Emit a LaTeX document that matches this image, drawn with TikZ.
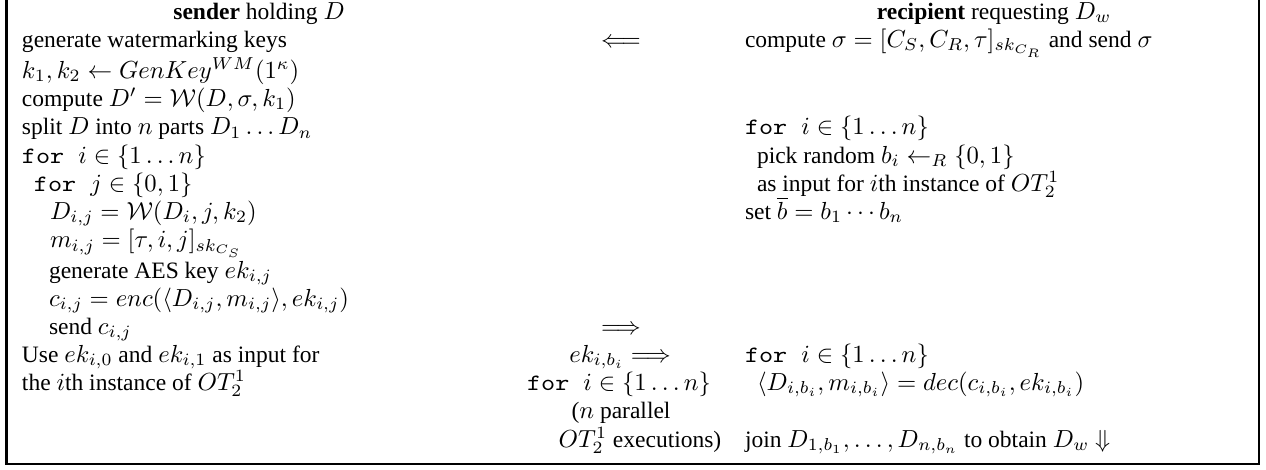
\RequirePackage{fix-cm}
\documentclass[tikz,border=0pt]{standalone}
\usepackage[no-math]{fontspec}
\setmainfont{Liberation Serif}
\setmonofont{lmmono10-regular.otf}[FakeStretch=1.143]
\DeclareMathSizes{10}{10.5}{7.35}{5.25}
\newcommand{\tfor}{\texttt{for\ }}
\begin{document}
\begin{tikzpicture}[x=0.4255pt,y=-0.4255pt,
  lt/.style={anchor=base west,inner sep=0pt,outer sep=0pt,font=\fontsize{10pt}{12pt}\selectfont},
  ct/.style={anchor=base,inner sep=0pt,outer sep=0pt,font=\fontsize{10pt}{12pt}\selectfont},
  frame/.style={draw=black,line width=0.9pt}]
\useasboundingbox (0,0) rectangle (1266,469);
% rows (baselines)
\def\ra{19}\def\rb{47}\def\rc{78}\def\rd{106}\def\re{134.5}\def\rf{163}
\def\rg{191}\def\rh{219}\def\ri{247.5}\def\rj{278}\def\rk{306}\def\rl{334}
\def\rm{362}\def\rn{390}\def\ro{418.5}\def\rp{447}
% left column
\node[ct] (sh) at (259,\ra) {\textbf{sender} holding $D$};
\node[lt] (l2) at (22,\rb) {generate watermarking keys};
\node[lt] (l3) at (22,\rc) {$k_1,k_2\leftarrow GenKey^{WM}(1^\kappa)$};
\node[lt] (l4) at (22,\rd) {compute $D'=\mathcal{W}(D,\sigma,k_1)$};
\node[lt] (l5) at (22,\re) {split $D$ into $n$ parts $D_1\ldots D_n$};
\node[lt] (l6) at (22,\rf) {\tfor$i\in\{1\ldots n\}$};
\node[lt] (l7) at (34,\rg) {\tfor$j\in\{0,1\}$};
\node[lt] (l8) at (50,\rh) {$D_{i,j}=\mathcal{W}(D_i,j,k_2)$};
\node[lt] (l9) at (50,\ri) {$m_{i,j}=[\tau,i,j]_{sk_{C_S}}$};
\node[lt] (l10) at (49,\rj) {generate AES key $ek_{i,j}$};
\node[lt] (l11) at (49,\rk) {$c_{i,j}=enc(\langle D_{i,j},m_{i,j}\rangle,ek_{i,j})$};
\node[lt] (l12) at (49,\rl) {send $c_{i,j}$};
\node[lt] (l13) at (22,\rm) {Use $ek_{i,0}$ and $ek_{i,1}$ as input for};
\node[lt] (l14) at (22,\rn) {the $i$th instance of $OT_2^1$};
% middle column
\node[ct] (m2) at (621,\rb) {$\Longleftarrow$};
\node[ct] (m12) at (621,\rl) {$\Longrightarrow$};
\node[ct] (m13) at (620,\rm) {$ek_{i,b_i}\Longrightarrow$};
\node[ct] (m14) at (619,\rn) {\tfor$i\in\{1\ldots n\}$};
\node[ct] (m15) at (621,\ro) {($n$ parallel};
\node[ct] (m16) at (640,\rp) {$OT_2^1$ executions)};
% right column
\node[ct] (rh) at (994,\ra) {\textbf{recipient} requesting $D_w$};
\node[lt] (r2) at (745,\rb) {compute $\sigma=[C_S,C_R,\tau]_{sk_{C_R}}$ and send $\sigma$};
\node[lt] (r5) at (745,\re) {\tfor$i\in\{1\ldots n\}$};
\node[lt] (r6) at (757,\rf) {pick random $b_i\leftarrow_R\{0,1\}$};
\node[lt] (r7) at (757,\rg) {as input for $i$th instance of $OT_2^1$};
\node[lt] (r8) at (745,\rh) {set $\overline{b}=b_1\cdots b_n$};
\node[lt] (r13) at (745,\rm) {\tfor$i\in\{1\ldots n\}$};
\node[lt] (r14) at (757,\rn) {$\langle D_{i,b_i},m_{i,b_i}\rangle=dec(c_{i,b_i},ek_{i,b_i})$};
\node[lt] (r16) at (745,\rp) {join $D_{1,b_1},\ldots,D_{n,b_n}$ to obtain $D_w$ $\Downarrow$};
% frame
\coordinate (tl) at (6.5,0);
\coordinate (bl) at (6.5,464);
\coordinate (br) at (1259,464);
\coordinate (tr) at (1259,0);
\draw[frame] (tl) -- (bl) -- (br) -- (tr);
\end{tikzpicture}
\end{document}
